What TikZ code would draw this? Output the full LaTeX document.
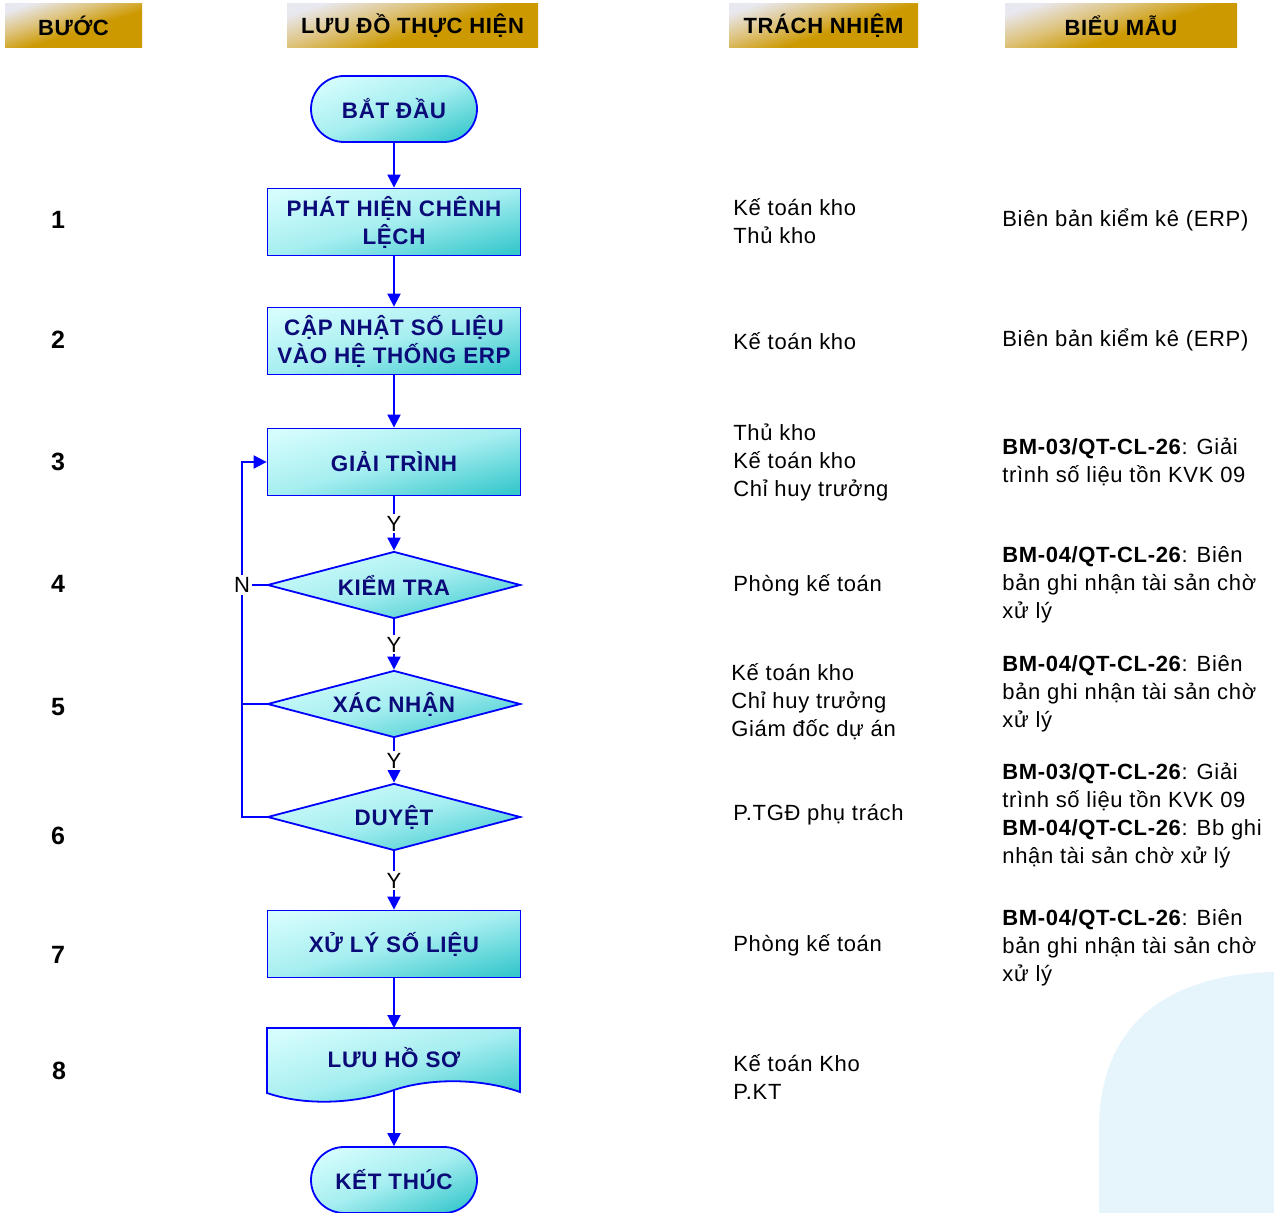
\documentclass[tikz,border=0pt]{standalone}
\usepackage{fontspec}
\setmainfont{Liberation Sans}[LetterSpace=3]
\usetikzlibrary{shapes.geometric,arrows.meta}
\definecolor{hdgold}{HTML}{CC9900}
\definecolor{hdlight}{HTML}{E8E8F0}
\definecolor{hdmid}{HTML}{DDC27A}
\definecolor{cyL}{HTML}{D6FDFD}
\definecolor{cyM}{HTML}{A6EEF0}
\definecolor{cyD}{HTML}{38C8CC}
\definecolor{navy}{HTML}{0A0A78}
\definecolor{lnblue}{HTML}{0000FF}
\definecolor{bgblue}{HTML}{E6F4FC}
\pgfdeclareverticalshading{goldsh}{100bp}{color(0bp)=(hdgold); color(45bp)=(hdgold); color(60bp)=(hdmid); color(76bp)=(hdlight); color(100bp)=(hdlight)}
\pgfdeclareverticalshading{cyansh}{100bp}{color(0bp)=(cyD); color(22bp)=(cyD); color(50bp)=(cyM); color(78bp)=(cyL); color(100bp)=(cyL)}
\tikzset{
  hdr/.style={shade, shading=goldsh, shading angle=18, minimum height=22pt, inner sep=0pt, font=\bfseries\fontsize{11}{13}\selectfont, text=black},
  proc/.style={draw=lnblue, line width=0.9pt, shade, shading=cyansh, shading angle=15, minimum width=126.5pt, minimum height=33.5pt, inner sep=0pt, align=center, font=\bfseries\fontsize{11.2}{14}\selectfont, text=navy},
  term/.style={proc, shading angle=22, rounded corners=16.5pt, minimum width=83pt, minimum height=33pt},
  dec/.style={proc, diamond, aspect=3.78},
  doctext/.style={minimum width=126.5pt, minimum height=32pt, inner sep=0pt, font=\bfseries\fontsize{11.2}{14}\selectfont, text=navy},
  num/.style={font=\bfseries\fontsize{12.5}{14}\selectfont, text=black, inner sep=0pt},
  resp/.style={anchor=west, align=left, inner sep=0pt, font=\fontsize{11}{14}\selectfont, text=black},
  lbl/.style={fill=white, inner sep=1pt, font=\fontsize{11}{12}\selectfont, text=black},
  arr/.style={draw=lnblue, line width=1pt, -{Triangle[width=6.5pt,length=6.5pt]}},
  ln/.style={draw=lnblue, line width=1pt}
}
\begin{document}
\begin{tikzpicture}[x=0.5pt,y=-0.5pt]
\useasboundingbox (0,0) rectangle (1274,1213);
% background corner shape
\fill[bgblue] (1099,1213) -- (1099,1130) .. controls (1099,1030) and (1160,975) .. (1274,972) -- (1274,1213) -- cycle;
% headers
\node[hdr, minimum width=68.5pt] (h1) at (73.5,26) {BƯỚC};
\node[hdr, minimum width=125.5pt] (h2) at (412.5,26) {LƯU ĐỒ THỰC HIỆN};
\node[hdr, minimum width=94.5pt] (h3) at (823.5,26) {TRÁCH NHIỆM};
\node[hdr, minimum width=116pt] (h4) at (1121,26) {BIỂU MẪU};
% flow nodes
\node[term] (bd) at (394,109) {BẮT ĐẦU};
\node[proc] (s1) at (394,222) {PHÁT HIỆN CHÊNH\\LỆCH};
\node[proc] (s2) at (394,341) {CẬP NHẬT SỐ LIỆU\\VÀO HỆ THỐNG ERP};
\node[proc] (s3) at (394,462) {GIẢI TRÌNH};
\node[dec] (s4) at (394,585) {KIỂM TRA};
\node[dec] (s5) at (394,704) {XÁC NHẬN};
\node[dec] (s6) at (394,817) {DUYỆT};
\node[proc] (s7) at (394,944) {XỬ LÝ SỐ LIỆU};
\shade[shading=cyansh, shading angle=17, draw=lnblue, line width=0.9pt]
  (267,1028) -- (520,1028) -- (520,1092) .. controls (480,1078) and (430,1078) .. (394,1090)
  .. controls (355,1104) and (305,1106) .. (267,1093) -- cycle;
\node[doctext] (s8) at (394,1058) {LƯU HỒ SƠ};
\node[term] (kt) at (394,1180) {KẾT THÚC};
% connectors
\draw[arr] (bd) -- (s1);
\draw[arr] (s1) -- (s2);
\draw[arr] (s2) -- (s3);
\draw[arr] (s3) -- node[lbl]{Y} (s4);
\draw[arr] (s4) -- node[lbl]{Y} (s5);
\draw[arr] (s5) -- node[lbl]{Y} (s6);
\draw[arr] (s6) -- node[lbl]{Y} (s7);
\draw[arr] (s7) -- (s8.north |- 0,1028);
\draw[arr] (s8.south |- 0,1090) -- (kt);
% loop back
\node[lbl] (nn) at (242,585) {N};
\draw[ln] (s4.west) -- (nn);
\draw[arr] (nn) |- (s3.west);
\draw[ln] (nn) |- (s6.west);
\draw[ln] (s5.west) -- (s5.west -| nn.center);
% step numbers
\node[num] (n1) at (58,220) {1};
\node[num] (n2) at (58,340) {2};
\node[num] (n3) at (58,462) {3};
\node[num] (n4) at (58,584) {4};
\node[num] (n5) at (58,707) {5};
\node[num] (n6) at (58,836) {6};
\node[num] (n7) at (58,955) {7};
\node[num] (n8) at (59,1071) {8};
% responsibilities
\node[resp] (r1) at (733,221) {Kế toán kho\\Thủ kho};
\node[resp] (r2) at (733,341) {Kế toán kho};
\node[resp] (r3) at (733,462) {Thủ kho\\Kế toán kho\\Chỉ huy trưởng};
\node[resp] (r4) at (733,585) {Phòng kế toán};
\node[resp] (r5) at (731,702) {Kế toán kho\\Chỉ huy trưởng\\Giám đốc dự án};
\node[resp] (r6) at (733,815) {P.TGĐ phụ trách};
\node[resp] (r7) at (733,945) {Phòng kế toán};
\node[resp] (r8) at (733,1077) {Kế toán Kho\\P.KT};
% forms
\node[resp] (f1) at (1002,220) {Biên bản kiểm kê (ERP)};
\node[resp] (f2) at (1002,340) {Biên bản kiểm kê (ERP)};
\node[resp] (f3) at (1002,462) {\textbf{BM-03/QT-CL-26}: Giải\\trình số liệu tồn KVK 09};
\node[resp] (f4) at (1002,585) {\textbf{BM-04/QT-CL-26}: Biên\\bản ghi nhận tài sản chờ\\xử lý};
\node[resp] (f5) at (1002,694) {\textbf{BM-04/QT-CL-26}: Biên\\bản ghi nhận tài sản chờ\\xử lý};
\node[resp] (f6) at (1002,816) {\textbf{BM-03/QT-CL-26}: Giải\\trình số liệu tồn KVK 09\\\textbf{BM-04/QT-CL-26}: Bb ghi\\nhận tài sản chờ xử lý};
\node[resp] (f7) at (1002,948) {\textbf{BM-04/QT-CL-26}: Biên\\bản ghi nhận tài sản chờ\\xử lý};
\end{tikzpicture}
\end{document}
